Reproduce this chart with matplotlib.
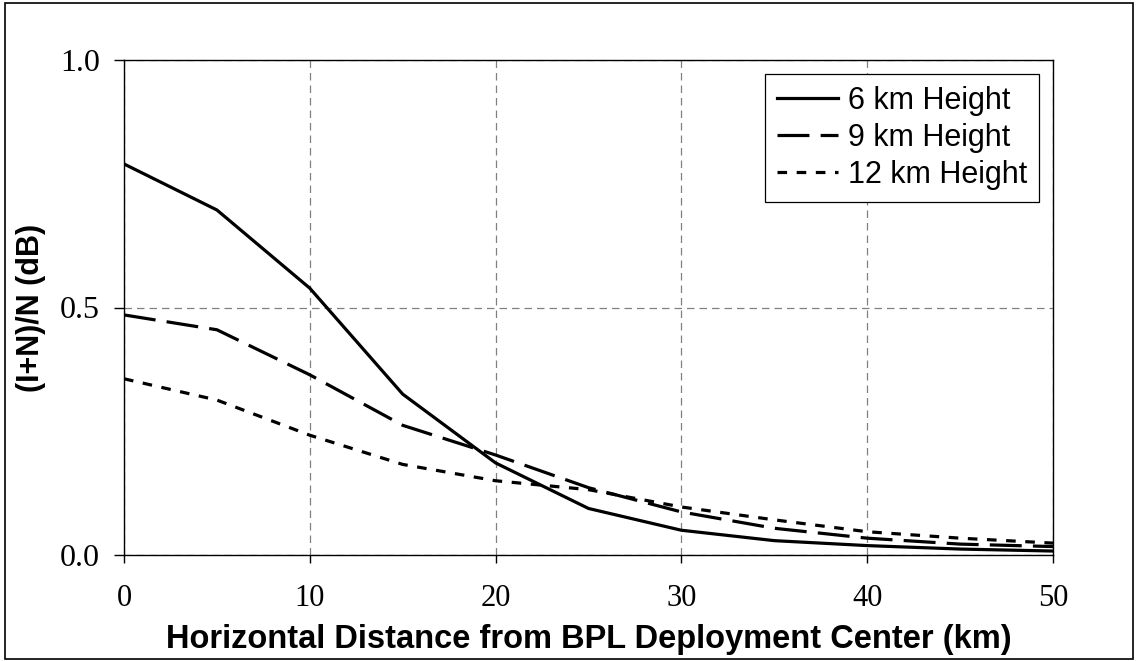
import matplotlib.pyplot as plt
from matplotlib.patches import Rectangle

distance_km = [0, 5, 10, 15, 20, 25, 30, 35, 40, 45, 50]
h6_km = [0.790, 0.697, 0.539, 0.325, 0.186, 0.094, 0.050, 0.029, 0.019, 0.012, 0.008]
h9_km = [0.485, 0.455, 0.364, 0.262, 0.202, 0.136, 0.087, 0.054, 0.034, 0.022, 0.017]
h12_km = [0.356, 0.313, 0.242, 0.183, 0.150, 0.132, 0.097, 0.071, 0.047, 0.034, 0.024]
series_labels = ["6 km Height", "9 km Height", "12 km Height"]

serif = ["Liberation Serif", "DejaVu Serif"]
sans = ["Liberation Sans", "DejaVu Sans"]

fig = plt.figure(figsize=(11.38, 6.61), dpi=100)
ax = fig.add_axes([124 / 1138, 1 - 555 / 661, (1053 - 124) / 1138, (555 - 60) / 661])

# contorno esterno della figura
fig.patches.append(Rectangle((5 / 1138, 2 / 661), 1128 / 1138, 656 / 661,
                             transform=fig.transFigure, fill=False,
                             edgecolor="black", linewidth=1.2))

lw = 2.3
ax.plot(distance_km, h6_km, color="black", lw=lw, label=series_labels[0])
ax.plot(distance_km, h9_km, color="black", lw=lw, dashes=(10, 3.5), label=series_labels[1])
ax.plot(distance_km, h12_km, color="black", lw=lw, dashes=(3, 3), label=series_labels[2])

ax.set_xlim(0, 50)
ax.set_ylim(0, 1.0)
ax.set_xticks([0, 10, 20, 30, 40, 50])
ax.set_yticks([0.0, 0.5, 1.0])
ax.set_yticklabels(["0.0", "0.5", "1.0"])
ax.grid(True, color="#808080", linestyle=(0, (6, 4)), linewidth=0.9)

for s in ax.spines.values():
    s.set_linewidth(1.0)
ax.tick_params(axis="y", direction="out", length=7.5, width=1.0, pad=10, labelsize=23)
ax.tick_params(axis="x", direction="out", length=6, width=1.0, pad=15, labelsize=22)
for t in ax.get_xticklabels() + ax.get_yticklabels():
    t.set_family(serif)

ax.set_xlabel("Horizontal Distance from BPL Deployment Center (km)",
              family=sans, fontsize=23.5, fontweight="bold", labelpad=8)
ax.set_ylabel("(I+N)/N (dB)", family=sans, fontsize=22, fontweight="bold", labelpad=10)

leg = ax.legend(loc="upper right", bbox_to_anchor=(0.985, 0.972), prop={"family": sans, "size": 22},
                frameon=True, fancybox=False, edgecolor="black", framealpha=1,
                handlelength=2.0, handletextpad=0.3, borderpad=0.4, labelspacing=0.22,
                borderaxespad=0)
leg.get_frame().set_linewidth(0.9)

fig.savefig("out.png", dpi=100)
